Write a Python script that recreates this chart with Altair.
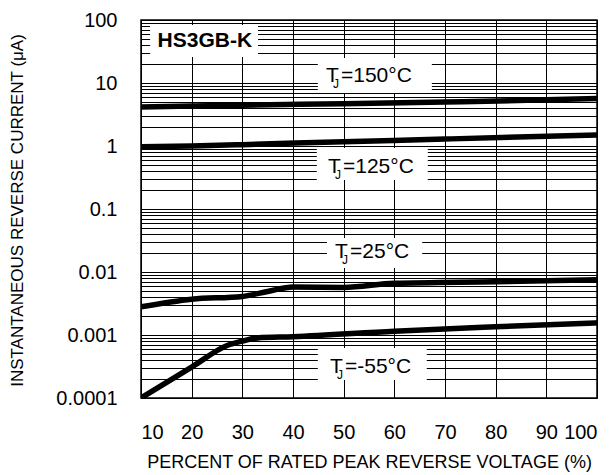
import altair as alt
import pandas as pd

FONT = "Liberation Sans"

# Curves: percent of rated peak reverse voltage vs reverse current (uA)
X150 = [10, 20, 30, 50, 70, 90, 100]
Y150 = [4.15, 4.3, 4.45, 4.7, 5.0, 5.4, 5.7]

X125 = [10, 20, 30, 50, 70, 100]
Y125 = [0.97, 1.0, 1.05, 1.17, 1.29, 1.5]

X25 = [10, 20, 30, 35, 40, 50, 60, 80, 100]
Y25 = [0.0028, 0.0037, 0.0041, 0.0049, 0.0058, 0.0057, 0.0066, 0.0070, 0.0075]

XM55 = [10, 20, 27, 30, 33, 40, 60, 80, 100]
YM55 = [0.0001, 0.00031, 0.00068, 0.00080, 0.00090, 0.00094, 0.00115, 0.00135, 0.00156]

X_TICKS = [10, 20, 30, 40, 50, 60, 70, 80, 90, 100]
Y_LABELS = [0.0001, 0.001, 0.01, 0.1, 1, 10, 100]
Y_GRID = [0.0001, 0.0002, 0.0003, 0.0004, 0.0005, 0.0006, 0.0007, 0.0008, 0.0009,
          0.001, 0.002, 0.003, 0.004, 0.005, 0.006, 0.007, 0.008, 0.009,
          0.01, 0.02, 0.03, 0.04, 0.05, 0.06, 0.07, 0.08, 0.09,
          0.1, 0.2, 0.3, 0.4, 0.5, 0.6, 0.7, 0.8, 0.9,
          1, 2, 3, 4, 5, 6, 7, 8, 9,
          10, 20, 30, 40, 50, 60, 70, 80, 90, 100]

# Annotation labels (T_J = ...)
LABEL_REST = ["=150°C", "=125°C", "=25°C", "=-55°C"]
LABEL_X = [46.5, 46.9, 48.3, 47.3]
LABEL_Y = [12.9, 0.469, 0.0211, 0.000311]

TITLE_TEXT = ["HS3GB-K"]
TITLE_X = [22.6]
TITLE_Y = [45.9]

# White boxes behind labels
BOX_X1 = [11.8, 44.9, 44.7, 46.7, 44.9]
BOX_X2 = [33.1, 67.4, 66.6, 65.5, 66.4]
BOX_Y1 = [83.3, 24.9, 0.929, 0.0347, 0.000622]
BOX_Y2 = [25.9, 6.93, 0.288, 0.01156, 0.000193]

rows = []
for name, xs, ys in [("150", X150, Y150), ("125", X125, Y125),
                     ("25", X25, Y25), ("-55", XM55, YM55)]:
    for x, y in zip(xs, ys):
        rows.append({"series": name, "x": x, "y": y})
curves = pd.DataFrame(rows)

labels = pd.DataFrame({"x": LABEL_X, "y": LABEL_Y, "rest": LABEL_REST,
                       "t": ["T"] * 4, "j": ["J"] * 4})
title_df = pd.DataFrame({"x": TITLE_X, "y": TITLE_Y, "text": TITLE_TEXT})
boxes = pd.DataFrame({"x1": BOX_X1, "x2": BOX_X2, "y1": BOX_Y1, "y2": BOX_Y2})

x_scale = alt.Scale(domain=[10, 100], nice=False, zero=False)
y_scale = alt.Scale(type="log", domain=[0.0001, 100], nice=False)

label_expr = ("indexof([0.0001,0.001,0.01,0.1,1,10,100], datum.value) >= 0 ? "
              "format(datum.value, '.4~f') : ''")

x_axis = alt.Axis(values=X_TICKS, grid=True, gridColor="#000", gridWidth=1,
                  gridOpacity=1, ticks=False, tickSize=0, domain=False,
                  labelFont=FONT, labelFontSize=20, labelColor="#000",
                  labelPadding=34, labelBaseline="middle",
                  title="PERCENT OF RATED PEAK REVERSE VOLTAGE (%)",
                  titleFont=FONT, titleFontSize=18, titleFontWeight="normal",
                  titleColor="#000", titleBaseline="middle", titleY=64)
y_axis = alt.Axis(values=Y_GRID, grid=True, gridColor="#000", gridWidth=1,
                  gridOpacity=1, ticks=False, tickSize=0, domain=False,
                  labelExpr=label_expr, labelOverlap=False,
                  labelFont=FONT, labelFontSize=20, labelColor="#000",
                  labelPadding=24,
                  title="INSTANTANEOUS REVERSE CURRENT (μA)",
                  titleFont=FONT, titleFontSize=17, titleFontWeight="normal",
                  titleColor="#000", titleBaseline="middle", titleAngle=-90,
                  titleX=-124, titleY=190)

box_layer = alt.Chart(boxes).mark_rect(color="white", opacity=1).encode(
    x=alt.X("x1:Q", scale=x_scale, axis=x_axis),
    x2="x2:Q",
    y=alt.Y("y1:Q", scale=y_scale, axis=y_axis),
    y2="y2:Q",
)

line_layer = alt.Chart(curves).mark_line(
    color="black", strokeWidth=5.5, interpolate="monotone", clip=True
).encode(
    x=alt.X("x:Q", scale=x_scale),
    y=alt.Y("y:Q", scale=y_scale),
    detail="series:N",
)

t_layer = alt.Chart(labels).mark_text(
    align="left", baseline="middle", font=FONT, fontSize=21, color="black"
).encode(x=alt.X("x:Q", scale=x_scale), y=alt.Y("y:Q", scale=y_scale), text="t:N")

j_layer = alt.Chart(labels).mark_text(
    align="left", baseline="middle", font=FONT, fontSize=12, color="black",
    dx=7, dy=8
).encode(x=alt.X("x:Q", scale=x_scale), y=alt.Y("y:Q", scale=y_scale), text="j:N")

rest_layer = alt.Chart(labels).mark_text(
    align="left", baseline="middle", font=FONT, fontSize=21, color="black",
    dx=15
).encode(x=alt.X("x:Q", scale=x_scale), y=alt.Y("y:Q", scale=y_scale), text="rest:N")

title_layer = alt.Chart(title_df).mark_text(
    align="center", baseline="middle", font=FONT, fontSize=21,
    fontWeight="bold", color="black"
).encode(x=alt.X("x:Q", scale=x_scale), y=alt.Y("y:Q", scale=y_scale), text="text:N")

chart = alt.layer(
    box_layer, line_layer, t_layer, j_layer, rest_layer, title_layer
).properties(
    width=456, height=378,
    autosize=alt.AutoSizeParams(type="none"),
    padding={"left": 133, "top": 12, "right": 8, "bottom": 77},
    background="white",
).configure_view(
    stroke="black", strokeWidth=1.5
)

chart.save("out.html", embed_options={"renderer": "svg", "actions": False})
